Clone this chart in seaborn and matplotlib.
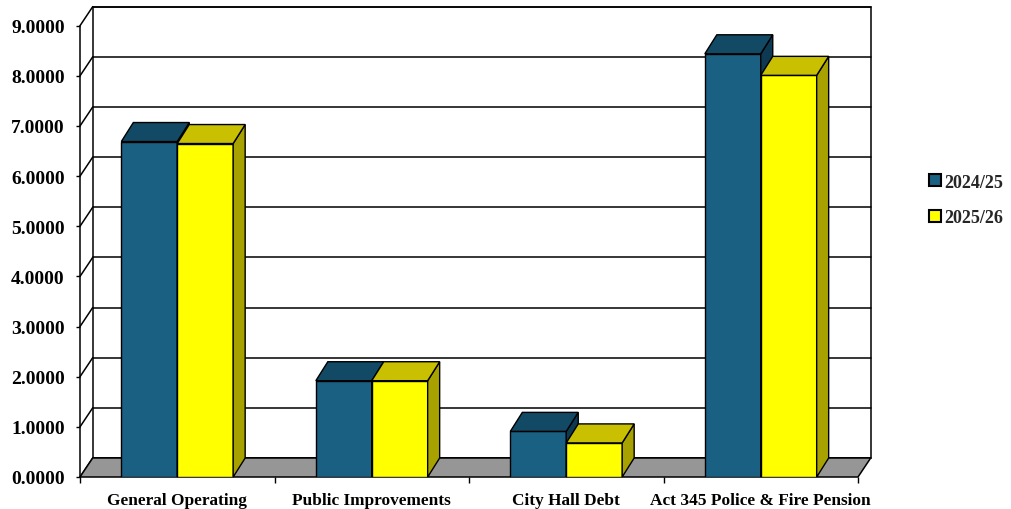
import numpy as np
import pandas as pd
import matplotlib
matplotlib.use("Agg")
import matplotlib.pyplot as plt
from matplotlib.patches import Polygon
from matplotlib.lines import Line2D
import seaborn as sns

# Tax rate components by fiscal year
categories = ["General Operating", "Public Improvements", "City Hall Debt",
              "Act 345 Police & Fire Pension"]
years = ["2024/25", "2025/26"]
rate_2024_25 = [6.69, 1.92, 0.91, 8.44]
rate_2025_26 = [6.65, 1.92, 0.68, 8.01]
y_ticks = [0, 1, 2, 3, 4, 5, 6, 7, 8, 9]

df = pd.DataFrame({
    "category": categories * 2,
    "year": [years[0]] * 4 + [years[1]] * 4,
    "rate": rate_2024_25 + rate_2025_26,
})

front_colors = ["#1A6083", "#FFFF00"]
top_colors = ["#124A66", "#C8C000"]
side_colors = ["#0D3A52", "#A8A200"]
floor_color = "#969696"

sns.set_theme(style="white")
plt.rcParams["font.family"] = ["Liberation Serif", "DejaVu Serif"]
plt.rcParams["font.weight"] = "bold"

W, H = 1011, 510
fig = plt.figure(figsize=(W / 100, H / 100), dpi=100)
ax = fig.add_axes([80 / W, (H - 478) / H, (858 - 80) / W, (478 - 26.7) / H])

sns.barplot(data=df, x="category", y="rate", hue="year", order=categories,
            hue_order=years, palette=front_colors, width=0.575,
            edgecolor="black", linewidth=1.0, saturation=1, ax=ax, legend=False)

ax.set_xlim(-0.5, 3.5)
ax.set_ylim(0, 9)
for s in ax.spines.values():
    s.set_visible(False)
ax.set_xlabel("")
ax.set_ylabel("")

# pixel depth of the wall / bars converted to data units
px_x = ax.transData.transform((1, 0))[0] - ax.transData.transform((0, 0))[0]
px_y = ax.transData.transform((0, 1))[1] - ax.transData.transform((0, 0))[1]
wall_dx, wall_dy = 12.7 / px_x, 19.0 / px_y
bar_dx, bar_dy = 12.0 / px_x, 19.0 / px_y

x0, x1 = -0.5, 3.5
ymax = y_ticks[-1]
lw = 1.1

# back wall
ax.add_patch(Polygon([(x0 + wall_dx, wall_dy), (x1 + wall_dx, wall_dy),
                      (x1 + wall_dx, ymax + wall_dy), (x0 + wall_dx, ymax + wall_dy)],
                     closed=True, facecolor="white", edgecolor="black",
                     linewidth=lw, zorder=0.5, clip_on=False))
for v in y_ticks:
    # back-wall gridline and the matching diagonal on the side wall
    ax.add_line(Line2D([x0 + wall_dx, x1 + wall_dx], [v + wall_dy, v + wall_dy],
                       color="black", linewidth=lw, zorder=0.6, clip_on=False))
    ax.add_line(Line2D([x0, x0 + wall_dx], [v, v + wall_dy],
                       color="black", linewidth=lw, zorder=0.6, clip_on=False))
# front value axis line
ax.add_line(Line2D([x0, x0], [0, ymax], color="black", linewidth=lw,
                   zorder=0.6, clip_on=False))

# floor
ax.add_patch(Polygon([(x0, 0), (x1, 0), (x1 + wall_dx, wall_dy), (x0 + wall_dx, wall_dy)],
                     closed=True, facecolor=floor_color, edgecolor="black",
                     linewidth=lw, zorder=0.7, clip_on=False))

# extruded tops and sides for each bar
for level, container in enumerate(ax.containers):
    for bar in container:
        bx, bw, bh = bar.get_x(), bar.get_width(), bar.get_height()
        bar.set_zorder(2 + level)
        top = Polygon([(bx, bh), (bx + bw, bh), (bx + bw + bar_dx, bh + bar_dy),
                       (bx + bar_dx, bh + bar_dy)], closed=True,
                      facecolor=top_colors[level], edgecolor="black",
                      linewidth=1.0, zorder=2 + level, clip_on=False)
        side = Polygon([(bx + bw, 0), (bx + bw + bar_dx, bar_dy),
                        (bx + bw + bar_dx, bh + bar_dy), (bx + bw, bh)], closed=True,
                       facecolor=side_colors[level], edgecolor="black",
                       linewidth=1.0, zorder=2 + level, clip_on=False)
        ax.add_patch(side)
        ax.add_patch(top)

# ticks
ax.set_yticks(y_ticks)
ax.set_yticklabels([f"{v:.4f}" for v in y_ticks])
ax.tick_params(axis="y", which="major", left=True, length=3, width=1.0,
               color="black", pad=8, labelsize=14, labelcolor="black")
ax.set_xticks(range(len(categories)))
ax.set_xticklabels(categories)
ax.set_xticks(np.arange(-0.5, len(categories), 1.0), minor=True)
ax.tick_params(axis="x", which="major", bottom=False, length=0, pad=11,
               labelsize=12.4, labelcolor="black")
ax.tick_params(axis="x", which="minor", bottom=True, length=4, width=1.0,
               color="black")
for lab in ax.get_xticklabels() + ax.get_yticklabels():
    lab.set_fontweight("bold")

# legend
handles = [plt.Rectangle((0, 0), 1, 1, facecolor=c, edgecolor="black", linewidth=1.5)
           for c in front_colors]
fig.legend(handles, years, loc="center left", bbox_to_anchor=(929 / W, 1 - 201 / H),
           frameon=False, borderpad=0, borderaxespad=0,
           handlelength=0.65, handleheight=0.65, handletextpad=0.2,
           labelspacing=1.05, prop={"family": "Liberation Serif", "weight": "bold",
                                    "size": 13})

fig.savefig("out.png", dpi=100, facecolor="white")
